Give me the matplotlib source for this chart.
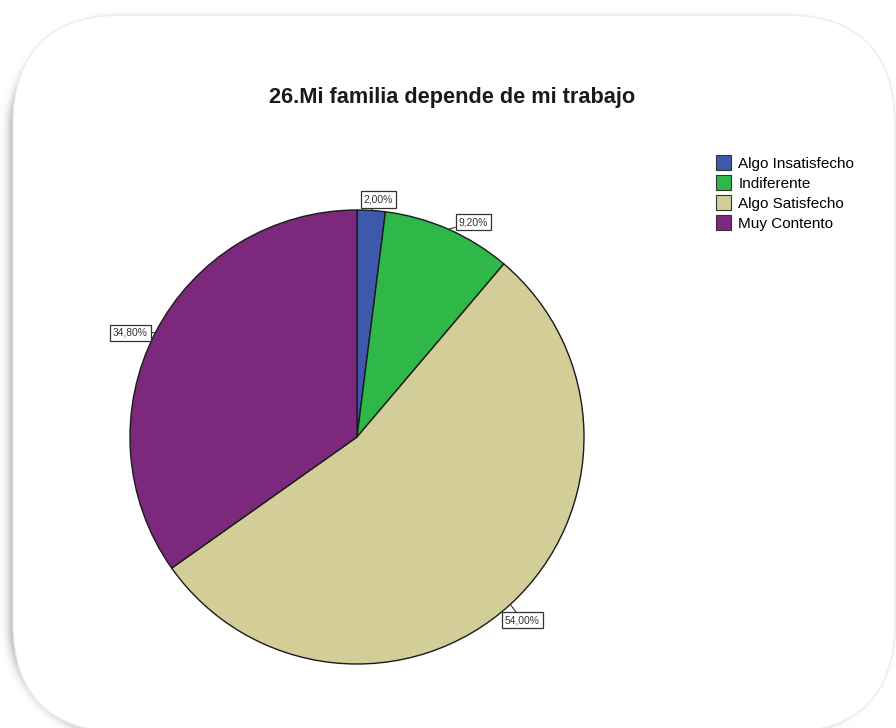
import numpy as np
import matplotlib
matplotlib.use("Agg")
import matplotlib.pyplot as plt
from matplotlib.patches import FancyBboxPatch, Patch

plt.rcParams['font.family'] = ['Liberation Sans', 'DejaVu Sans']

# Survey results for item 26
title = "26.Mi familia depende de mi trabajo"
categories = ["Algo Insatisfecho", "Indiferente", "Algo Satisfecho", "Muy Contento"]
percentages = [2.00, 9.20, 54.00, 34.80]
colors = ["#3E58AC", "#2EB848", "#D3CE97", "#7C287D"]

W, H = 896, 728
fig = plt.figure(figsize=(W / 100, H / 100), dpi=100)
fig.patch.set_facecolor("white")

# Background layer in pixel coordinates: rounded card with a soft drop shadow
bg = fig.add_axes([0, 0, 1, 1])
bg.set_xlim(0, W)
bg.set_ylim(H, 0)
bg.axis("off")

card_x0, card_y0, card_x1, card_y1, radius = 13, 15, 895, 732, 110


def rounded_rect_sdf(px, py, x0, y0, x1, y1, r):
    cx, cy = (x0 + x1) / 2, (y0 + y1) / 2
    hx, hy = (x1 - x0) / 2 - r, (y1 - y0) / 2 - r
    qx = np.abs(px - cx) - hx
    qy = np.abs(py - cy) - hy
    outside = np.hypot(np.maximum(qx, 0), np.maximum(qy, 0))
    inside = np.minimum(np.maximum(qx, qy), 0)
    return outside + inside - r


yy, xx = np.mgrid[0:H, 0:W] + 0.5
d = rounded_rect_sdf(xx + 4, yy - 4, card_x0, card_y0, card_x1, card_y1, radius)
shadow_alpha = 0.40 / (1 + np.exp(d / 2.4))
shadow = np.zeros((H, W, 4))
shadow[..., :3] = 0.25
shadow[..., 3] = shadow_alpha
bg.imshow(shadow, extent=(0, W, H, 0), interpolation="bilinear", zorder=1)

card = FancyBboxPatch((card_x0, card_y0), card_x1 - card_x0, card_y1 - card_y0,
                      boxstyle=f"round,pad=0,rounding_size={radius}",
                      facecolor="white", edgecolor="#ececec", linewidth=1.0, zorder=2)
bg.add_patch(card)

bg.text(452, 103, title, ha="center", va="baseline", fontsize=15.7,
        fontweight="bold", color="#1a1a1a", zorder=3)

# Pie chart
ax = fig.add_axes([130 / W, (H - 664) / H, 454 / W, 454 / H])
ax.set_facecolor("none")
wedges, _ = ax.pie(percentages, colors=colors, startangle=90, counterclock=False,
                   wedgeprops=dict(edgecolor="#1a1a1a", linewidth=1.0))
ax.set_xlim(-1, 1)
ax.set_ylim(-1, 1)

label_offsets = [(7, 11), (25, 7), (12, -16), (-25, 0)]
for w, pct, off in zip(wedges, percentages, label_offsets):
    mid = np.deg2rad((w.theta1 + w.theta2) / 2)
    xy = (np.cos(mid), np.sin(mid))
    txt = f"{pct:.2f}".replace(".", ",") + "%"
    ax.annotate(txt, xy=xy, xytext=off, textcoords="offset pixels",
                ha="center", va="center", fontsize=7.4, color="#333333",
                bbox=dict(boxstyle="square,pad=0.3", facecolor="white",
                          edgecolor="#333333", linewidth=0.9),
                arrowprops=dict(arrowstyle="-", color="#333333", lw=0.8,
                                shrinkA=0, shrinkB=0),
                annotation_clip=False)

handles = [Patch(facecolor=c, edgecolor="#333333", linewidth=0.8) for c in colors]
fig.legend(handles, categories, loc="upper left",
           bbox_to_anchor=(716 / W, 1 - 155 / H), frameon=False,
           fontsize=11, borderpad=0, borderaxespad=0,
           handlelength=1.0, handleheight=1.1, handletextpad=0.45,
           labelspacing=0.3)

fig.savefig("out.png", dpi=100, facecolor="white")
